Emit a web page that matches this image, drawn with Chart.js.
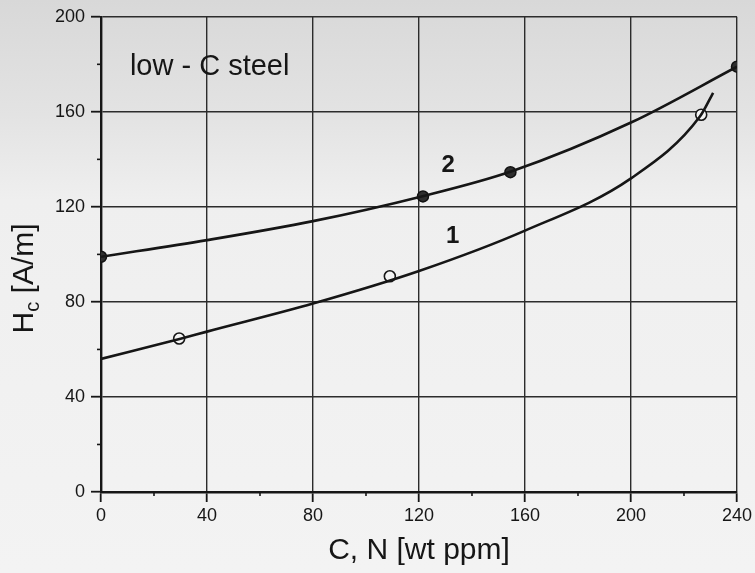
<!DOCTYPE html>
<html lang="en">
<head>
<meta charset="UTF-8">
<title>Hc vs C, N</title>
<script src="https://cdn.jsdelivr.net/npm/chart.js@4.4.0/dist/chart.umd.min.js"></script>
<style>
  html, body { margin: 0; padding: 0; background: #eeeeee; }
</style>
</head>
<body>
<canvas id="myCanvas" width="755" height="573"></canvas>
<script>
// curve 1 (open circles), line
const curve1X = [0, 30, 40, 80, 120, 160, 200, 226, 231];
const curve1Y = [56, 64.5, 67.5, 79.3, 93, 110, 132, 158, 168];
const points1X = [29.5, 109, 226.5];
const points1Y = [64.6, 90.8, 158.8];

// curve 2 (filled circles)
const curve2X = [0, 40, 80, 121, 155, 200, 240];
const curve2Y = [99, 106, 114, 124.4, 135, 155.5, 179];
const points2X = [0, 121.5, 154.5, 240];
const points2Y = [99, 124.4, 134.6, 179];

const xTickLabels = [0, 40, 80, 120, 160, 200, 240];
const yTickLabels = [0, 40, 80, 120, 160, 200];

const FONT = "'Liberation Sans', Arial, sans-serif";
const INK = '#161616';

function xy(xs, ys) {
    return xs.map((x, i) => ({ x: x, y: ys[i] }));
}

const paperPlugin = {
    id: 'paper',
    beforeDraw(chart) {
        const c = chart.ctx;
        const g = c.createLinearGradient(0, 0, 0, chart.height);
        g.addColorStop(0, '#d8d8d8');
        g.addColorStop(0.2, '#e3e3e3');
        g.addColorStop(0.35, '#efefef');
        g.addColorStop(1, '#f3f3f3');
        c.save();
        c.fillStyle = g;
        c.fillRect(0, 0, chart.width, chart.height);
        c.restore();
    },
    afterDraw(chart) {
        const c = chart.ctx;
        const xs = chart.scales.x, ys = chart.scales.y;
        const area = chart.chartArea;
        c.save();
        // minor ticks
        c.strokeStyle = INK;
        c.lineWidth = 1.6;
        [20, 60, 100, 140, 180, 220].forEach(v => {
            const px = xs.getPixelForValue(v);
            c.beginPath(); c.moveTo(px, area.bottom); c.lineTo(px, area.bottom + 4); c.stroke();
        });
        [20, 60, 100, 140, 180].forEach(v => {
            const py = ys.getPixelForValue(v);
            c.beginPath(); c.moveTo(area.left - 4, py); c.lineTo(area.left, py); c.stroke();
        });

        // labels inside the plot
        c.fillStyle = INK;
        c.textAlign = 'center';
        c.textBaseline = 'alphabetic';
        c.font = '29px ' + FONT;
        c.fillText('low - C steel', xs.getPixelForValue(41), ys.getPixelForValue(175.6));
        c.font = 'bold 24px ' + FONT;
        c.textBaseline = 'middle';
        c.fillText('2', xs.getPixelForValue(131), ys.getPixelForValue(137.4));
        c.fillText('1', xs.getPixelForValue(132.7), ys.getPixelForValue(107.6));

        // y axis title with subscript
        const main = '30px ' + FONT, sub = '20px ' + FONT;
        c.font = main;
        const wH = c.measureText('H').width;
        const wRest = c.measureText(' [A/m]').width;
        c.font = sub;
        const wC = c.measureText('c').width;
        const total = wH + wC + wRest;
        c.translate(21, (area.top + area.bottom) / 2 + 24);
        c.rotate(-Math.PI / 2);
        c.textAlign = 'left';
        c.textBaseline = 'alphabetic';
        let x0 = -total / 2;
        c.font = main;
        c.fillText('H', x0, 12);
        c.font = sub;
        c.fillText('c', x0 + wH, 18);
        c.font = main;
        c.fillText(' [A/m]', x0 + wH + wC, 12);
        c.restore();
    }
};

const ctx = document.getElementById('myCanvas').getContext('2d');
const myChart = new Chart(ctx, {
    type: 'scatter',
    data: {
        datasets: [{
            label: 'curve 1',
            data: xy(curve1X, curve1Y),
            showLine: true,
            borderColor: INK,
            borderWidth: 2.6,
            pointRadius: 0,
            cubicInterpolationMode: 'monotone'
        }, {
            label: 'curve 2',
            data: xy(curve2X, curve2Y),
            showLine: true,
            borderColor: INK,
            borderWidth: 2.6,
            pointRadius: 0,
            cubicInterpolationMode: 'monotone'
        }, {
            label: 'points 1',
            data: xy(points1X, points1Y),
            pointRadius: 5.5,
            pointBackgroundColor: '#f4f4f4',
            pointBorderColor: INK,
            pointBorderWidth: 1.6
        }, {
            label: 'points 2',
            data: xy(points2X, points2Y),
            pointRadius: 5.5,
            pointBackgroundColor: '#2e2e2e',
            pointBorderColor: '#111111',
            pointBorderWidth: 1.5
        }]
    },
    options: {
        responsive: false,
        animation: false,
        devicePixelRatio: 1,
        layout: { padding: { top: 16, right: 17, left: 0, bottom: 0 } },
        plugins: { legend: { display: false }, tooltip: { enabled: false } },
        scales: {
            x: {
                type: 'linear',
                min: 0, max: 240,
                afterFit(scale) { scale.height = 81; },
                ticks: {
                    stepSize: 40,
                    padding: 3,
                    color: INK,
                    font: { size: 18, family: FONT },
                    callback: v => xTickLabels.includes(v) ? v : ''
                },
                grid: { color: '#2c2c2c', lineWidth: 1.4, tickLength: 10, tickColor: INK, tickWidth: 1.8 },
                border: { display: true, color: INK, width: 2.4 },
                title: {
                    display: true,
                    text: 'C, N [wt ppm]',
                    color: INK,
                    font: { size: 30, family: FONT },
                    padding: { top: 0, bottom: 4 }
                }
            },
            y: {
                type: 'linear',
                min: 0, max: 200,
                afterFit(scale) { scale.width = 101; },
                ticks: {
                    stepSize: 40,
                    padding: 6,
                    color: INK,
                    font: { size: 18, family: FONT },
                    callback: v => yTickLabels.includes(v) ? v : ''
                },
                grid: { color: '#2c2c2c', lineWidth: 1.4, tickLength: 10, tickColor: INK, tickWidth: 1.8 },
                border: { display: true, color: INK, width: 2.4 }
            }
        }
    },
    plugins: [paperPlugin]
});
</script>
</body>
</html>
